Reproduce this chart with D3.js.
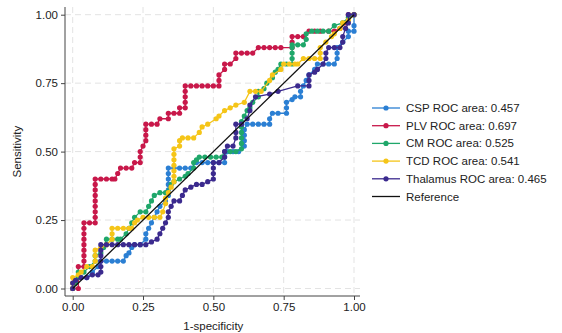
<!DOCTYPE html>
<html>
<head>
<meta charset="utf-8">
<script src="https://cdn.jsdelivr.net/npm/d3@7"></script>
<style>
  body { margin: 0; background: #fff; }
  svg { font-family: "Liberation Sans", Arial, sans-serif; }
</style>
</head>
<body>
<div id="chart"></div>
<script>
// ROC points [1-specificity, sensitivity]
const csp = [[0,0],[0.01,0.02],[0.03,0.04],[0.05,0.04],[0.07,0.06],[0.09,0.08],[0.10,0.10],[0.12,0.10],[0.14,0.10],[0.16,0.10],[0.18,0.10],[0.19,0.12],[0.20,0.13],[0.21,0.15],[0.22,0.16],[0.24,0.16],[0.26,0.18],[0.26,0.20],[0.27,0.22],[0.28,0.24],[0.29,0.26],[0.30,0.28],[0.31,0.30],[0.33,0.32],[0.34,0.34],[0.34,0.36],[0.34,0.38],[0.34,0.40],[0.34,0.42],[0.34,0.44],[0.36,0.44],[0.38,0.44],[0.40,0.44],[0.42,0.44],[0.44,0.46],[0.46,0.46],[0.48,0.46],[0.50,0.46],[0.52,0.46],[0.54,0.46],[0.54,0.48],[0.55,0.50],[0.57,0.50],[0.59,0.50],[0.61,0.52],[0.61,0.54],[0.61,0.56],[0.61,0.58],[0.62,0.60],[0.64,0.60],[0.66,0.60],[0.68,0.60],[0.70,0.60],[0.70,0.62],[0.71,0.64],[0.73,0.64],[0.76,0.64],[0.76,0.66],[0.76,0.68],[0.78,0.69],[0.79,0.70],[0.81,0.70],[0.81,0.72],[0.82,0.74],[0.83,0.76],[0.84,0.78],[0.86,0.80],[0.87,0.82],[0.89,0.82],[0.91,0.82],[0.93,0.82],[0.94,0.84],[0.94,0.86],[0.94,0.88],[0.96,0.90],[0.98,0.92],[0.98,0.94],[1,0.94],[1,0.96],[1,1]];
const plv = [[0,0],[0.02,0],[0.02,0.04],[0.02,0.08],[0.04,0.08],[0.04,0.10],[0.04,0.12],[0.04,0.14],[0.04,0.16],[0.04,0.18],[0.04,0.20],[0.04,0.22],[0.04,0.24],[0.06,0.24],[0.08,0.24],[0.08,0.26],[0.08,0.28],[0.08,0.30],[0.08,0.32],[0.08,0.34],[0.08,0.36],[0.08,0.38],[0.08,0.40],[0.10,0.40],[0.12,0.40],[0.14,0.40],[0.15,0.40],[0.16,0.42],[0.17,0.44],[0.19,0.44],[0.21,0.44],[0.22,0.46],[0.24,0.46],[0.24,0.48],[0.24,0.50],[0.25,0.52],[0.26,0.54],[0.26,0.56],[0.26,0.58],[0.26,0.60],[0.28,0.60],[0.30,0.60],[0.31,0.62],[0.34,0.62],[0.34,0.64],[0.36,0.64],[0.38,0.64],[0.38,0.66],[0.40,0.66],[0.40,0.68],[0.40,0.70],[0.40,0.72],[0.40,0.74],[0.42,0.74],[0.44,0.74],[0.46,0.74],[0.48,0.74],[0.50,0.74],[0.52,0.74],[0.52,0.76],[0.52,0.78],[0.54,0.80],[0.54,0.82],[0.56,0.82],[0.58,0.84],[0.58,0.86],[0.60,0.86],[0.62,0.86],[0.64,0.86],[0.66,0.88],[0.68,0.88],[0.70,0.88],[0.72,0.88],[0.74,0.88],[0.78,0.88],[0.78,0.90],[0.78,0.92],[0.80,0.92],[0.82,0.92],[0.84,0.94],[0.86,0.94],[0.88,0.94],[0.91,0.94],[0.93,0.94],[0.95,0.95],[0.97,0.97],[0.98,1],[1,1]];
const cm = [[0,0],[0.01,0.02],[0.02,0.04],[0.02,0.06],[0.04,0.06],[0.06,0.08],[0.08,0.10],[0.08,0.12],[0.10,0.13],[0.11,0.15],[0.12,0.18],[0.14,0.18],[0.16,0.18],[0.17,0.18],[0.19,0.20],[0.20,0.22],[0.21,0.24],[0.22,0.26],[0.24,0.28],[0.26,0.28],[0.27,0.30],[0.28,0.32],[0.29,0.34],[0.31,0.35],[0.33,0.35],[0.35,0.38],[0.36,0.39],[0.38,0.40],[0.40,0.41],[0.41,0.42],[0.43,0.44],[0.43,0.46],[0.44,0.47],[0.45,0.48],[0.47,0.48],[0.49,0.48],[0.51,0.48],[0.53,0.48],[0.54,0.50],[0.56,0.50],[0.58,0.50],[0.60,0.51],[0.60,0.53],[0.60,0.55],[0.60,0.57],[0.60,0.59],[0.60,0.61],[0.61,0.63],[0.62,0.65],[0.63,0.66],[0.64,0.68],[0.66,0.70],[0.66,0.72],[0.68,0.73],[0.69,0.75],[0.71,0.77],[0.72,0.79],[0.73,0.80],[0.74,0.82],[0.76,0.82],[0.78,0.82],[0.78,0.84],[0.78,0.86],[0.78,0.88],[0.78,0.89],[0.80,0.89],[0.82,0.89],[0.83,0.91],[0.83,0.93],[0.85,0.94],[0.87,0.94],[0.89,0.94],[0.91,0.94],[0.93,0.96],[0.96,0.97],[0.98,0.99],[1,1]];
const tcd = [[0,0],[0,0.02],[0,0.04],[0.02,0.05],[0.03,0.06],[0.05,0.08],[0.07,0.08],[0.08,0.10],[0.08,0.12],[0.08,0.14],[0.10,0.15],[0.12,0.16],[0.14,0.18],[0.14,0.20],[0.14,0.22],[0.16,0.22],[0.18,0.22],[0.20,0.22],[0.21,0.22],[0.22,0.24],[0.23,0.25],[0.25,0.26],[0.27,0.26],[0.29,0.26],[0.31,0.26],[0.32,0.28],[0.33,0.31],[0.33,0.33],[0.34,0.35],[0.35,0.37],[0.36,0.39],[0.36,0.41],[0.36,0.43],[0.36,0.45],[0.36,0.47],[0.36,0.49],[0.36,0.51],[0.38,0.52],[0.38,0.54],[0.39,0.55],[0.41,0.55],[0.43,0.55],[0.45,0.57],[0.46,0.59],[0.48,0.60],[0.51,0.62],[0.52,0.63],[0.54,0.65],[0.56,0.66],[0.58,0.67],[0.61,0.68],[0.63,0.72],[0.65,0.72],[0.67,0.72],[0.70,0.76],[0.71,0.78],[0.74,0.80],[0.75,0.82],[0.77,0.82],[0.79,0.82],[0.80,0.82],[0.82,0.84],[0.84,0.84],[0.86,0.84],[0.88,0.84],[0.88,0.86],[0.88,0.88],[0.90,0.90],[0.92,0.92],[0.93,0.93],[0.95,0.95],[0.96,0.97],[0.98,0.98],[1,1]];
const thalamus = [[0,0],[0,0.02],[0.01,0.03],[0.03,0.04],[0.05,0.04],[0.07,0.05],[0.09,0.05],[0.10,0.06],[0.10,0.08],[0.10,0.10],[0.10,0.12],[0.10,0.14],[0.10,0.16],[0.12,0.16],[0.14,0.16],[0.16,0.16],[0.18,0.16],[0.20,0.16],[0.22,0.16],[0.24,0.16],[0.26,0.16],[0.28,0.17],[0.30,0.18],[0.31,0.20],[0.32,0.22],[0.33,0.24],[0.34,0.26],[0.34,0.28],[0.35,0.30],[0.36,0.32],[0.38,0.32],[0.39,0.34],[0.40,0.36],[0.42,0.37],[0.44,0.38],[0.46,0.38],[0.48,0.39],[0.50,0.40],[0.50,0.42],[0.50,0.44],[0.50,0.46],[0.52,0.46],[0.54,0.48],[0.54,0.50],[0.55,0.52],[0.57,0.52],[0.58,0.55],[0.58,0.57],[0.58,0.60],[0.60,0.60],[0.62,0.62],[0.63,0.65],[0.63,0.67],[0.65,0.70],[0.70,0.71],[0.73,0.72],[0.80,0.74],[0.84,0.74],[0.84,0.76],[0.84,0.78],[0.86,0.79],[0.87,0.80],[0.89,0.82],[0.90,0.84],[0.90,0.86],[0.91,0.88],[0.93,0.88],[0.95,0.88],[0.96,0.90],[0.96,0.92],[0.97,0.95],[0.98,0.97],[0.98,1],[1,1]];

const seriesNames = ["CSP ROC area: 0.457", "PLV ROC area: 0.697", "CM ROC area: 0.525", "TCD ROC area: 0.541", "Thalamus ROC area: 0.465"];
const seriesData = [csp, plv, cm, tcd, thalamus];
const colors = ["#2b7fd3", "#c8184a", "#1fa76a", "#f5c518", "#3b2a8e"];
const refLine = [[0,0],[1,1]];
const ticks = [0, 0.25, 0.5, 0.75, 1];

const width = 562, height = 333;
const svg = d3.select("#chart").append("svg")
  .attr("width", width).attr("height", height);

const x = d3.scaleLinear().domain([0, 1]).range([72.7, 354]);
const y = d3.scaleLinear().domain([0, 1]).range([288.5, 14.7]);

const plotLeft = 65, plotRight = 360, plotTop = 7, plotBottom = 296;

// grid
const grid = svg.append("g");
grid.selectAll("line.gx").data(ticks).enter().append("line")
  .attr("x1", d => x(d)).attr("x2", d => x(d))
  .attr("y1", plotTop).attr("y2", plotBottom)
  .attr("stroke", "#e3e3e3").attr("stroke-width", 1).attr("stroke-dasharray", "6,4");
grid.selectAll("line.gy").data(ticks).enter().append("line")
  .attr("y1", d => y(d)).attr("y2", d => y(d))
  .attr("x1", plotLeft).attr("x2", plotRight)
  .attr("stroke", "#e3e3e3").attr("stroke-width", 1).attr("stroke-dasharray", "6,4");

// axes
const fmt = d3.format(".2f");
const yAxis = svg.append("g")
  .attr("transform", "translate(" + plotLeft + ",0)")
  .call(d3.axisLeft(y).tickValues(ticks).tickFormat(fmt).tickSize(4).tickPadding(3).tickSizeOuter(0));
yAxis.select(".domain").attr("d", "M0," + plotTop + "V" + plotBottom);

const xAxis = svg.append("g")
  .attr("transform", "translate(0," + plotBottom + ")")
  .call(d3.axisBottom(x).tickValues(ticks).tickFormat(fmt).tickSize(4).tickPadding(3).tickSizeOuter(0));
xAxis.select(".domain").attr("d", "M" + plotLeft + ",0H" + plotRight);

svg.selectAll(".tick text").attr("font-size", "11.5px").attr("fill", "#222")
  .attr("font-family", "'Liberation Sans', Arial, sans-serif");
svg.selectAll(".domain, .tick line").attr("stroke", "#444").attr("stroke-width", 1);

svg.append("text")
  .attr("x", x(0.5)).attr("y", 330)
  .attr("text-anchor", "middle").attr("font-size", "11.5px").attr("fill", "#222")
  .text("1-specificity");
svg.append("text")
  .attr("transform", "translate(21," + y(0.5) + ") rotate(-90)")
  .attr("text-anchor", "middle").attr("font-size", "11.5px").attr("fill", "#222")
  .text("Sensitivity");

// curves
const line = d3.line().x(d => x(d[0])).y(d => y(d[1]));
seriesData.forEach((data, i) => {
  const g = svg.append("g");
  g.append("path").datum(data)
    .attr("d", line).attr("fill", "none")
    .attr("stroke", colors[i]).attr("stroke-width", 1.3);
  g.selectAll("circle").data(data).enter().append("circle")
    .attr("cx", d => x(d[0])).attr("cy", d => y(d[1]))
    .attr("r", 2.6).attr("fill", colors[i]);
});

svg.append("path").datum(refLine)
  .attr("d", line).attr("fill", "none")
  .attr("stroke", "#111").attr("stroke-width", 1.3);

// legend
const legend = svg.append("g").attr("transform", "translate(372,108)");
const legendItems = seriesNames.map((n, i) => ({name: n, color: colors[i], dot: true}))
  .concat([{name: "Reference", color: "#111", dot: false}]);
const item = legend.selectAll("g").data(legendItems).enter().append("g")
  .attr("transform", (d, i) => "translate(0," + (i * 17.7) + ")");
item.append("line").attr("x1", 0).attr("x2", 28).attr("y1", 0).attr("y2", 0)
  .attr("stroke", d => d.color).attr("stroke-width", 1.3);
item.filter(d => d.dot).append("circle").attr("cx", 14).attr("cy", 0).attr("r", 2.6)
  .attr("fill", d => d.color);
item.append("text").attr("x", 34).attr("y", 4)
  .attr("font-size", "11.5px").attr("fill", "#222")
  .text(d => d.name);
</script>
</body>
</html>
